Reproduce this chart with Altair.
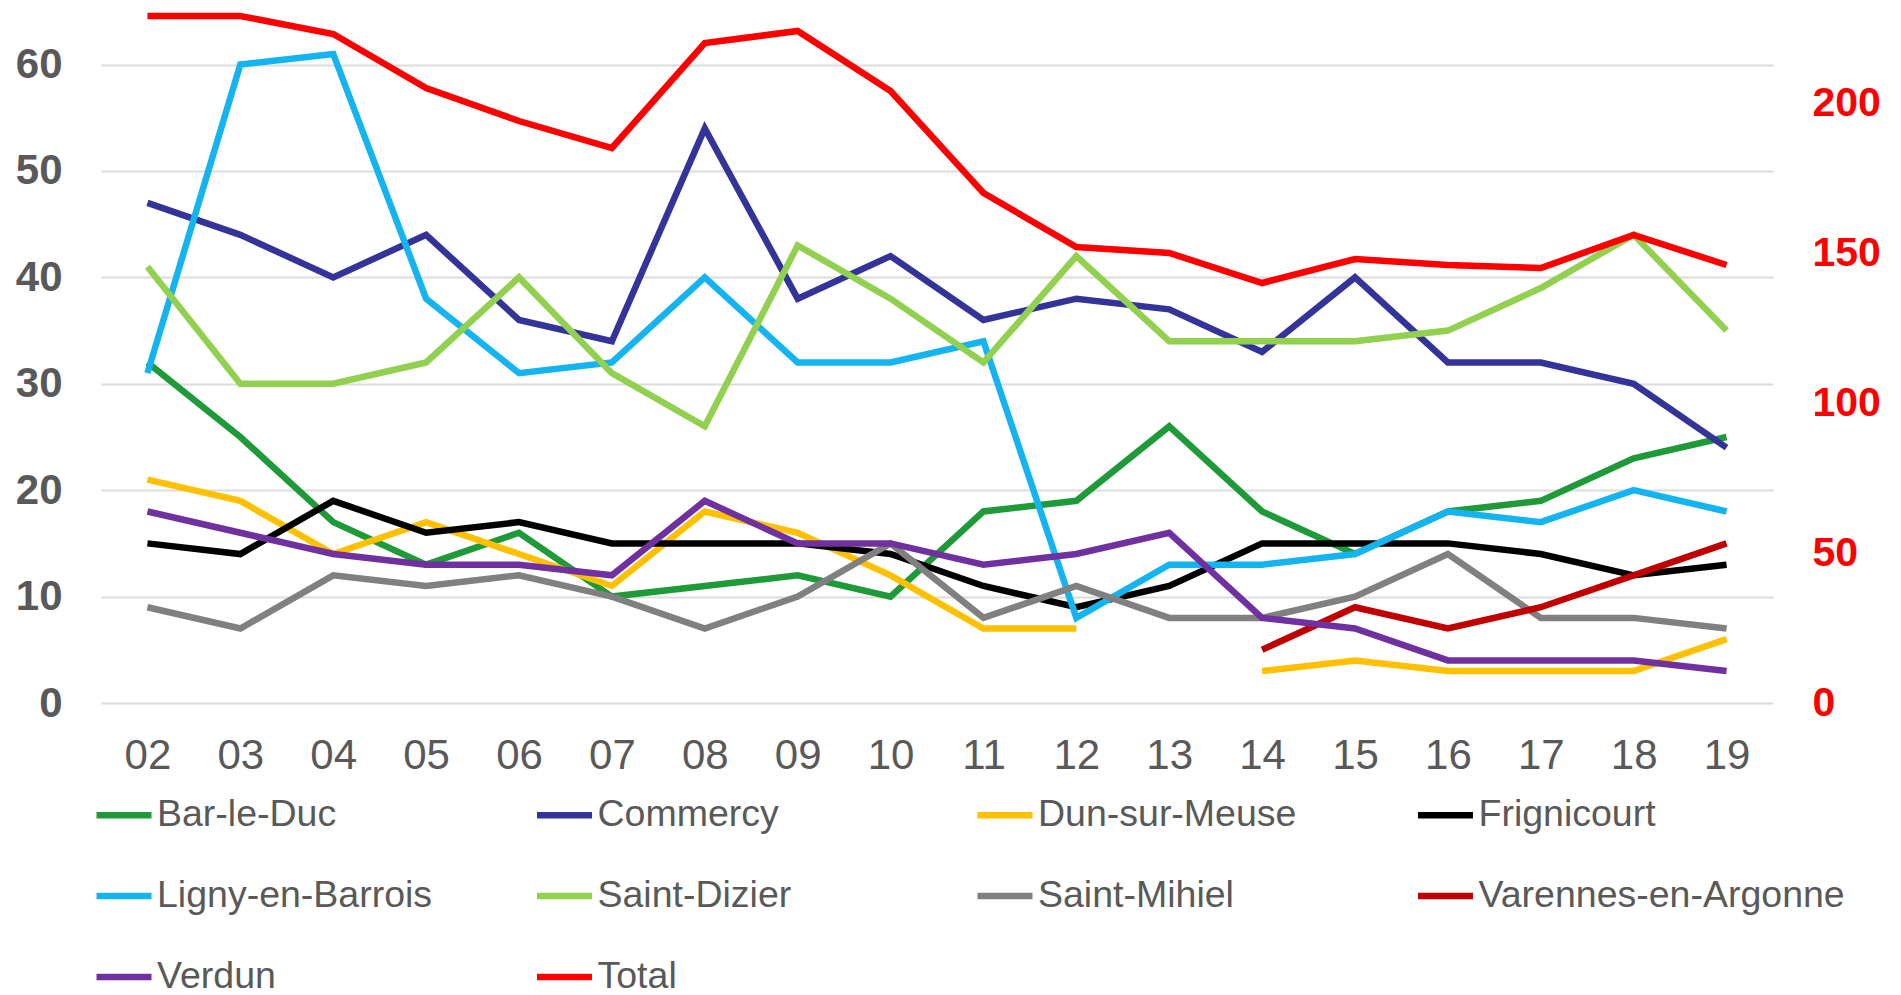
import altair as alt
import pandas as pd

years = ["02", "03", "04", "05", "06", "07", "08", "09", "10",
         "11", "12", "13", "14", "15", "16", "17", "18", "19"]

city_names = ["Bar-le-Duc", "Commercy", "Dun-sur-Meuse", "Frignicourt",
              "Ligny-en-Barrois", "Saint-Dizier", "Saint-Mihiel",
              "Varennes-en-Argonne", "Verdun"]
total_name = "Total"

bar_le_duc = [32, 25, 17, 13, 16, 10, 11, 12, 10, 18, 19, 26, 18, 14, 18, 19, 23, 25]
commercy = [47, 44, 40, 44, 36, 34, 54, 38, 42, 36, 38, 37, 33, 40, 32, 32, 30, 24]
dun_sur_meuse = [21, 19, 14, 17, 14, 11, 18, 16, 12, 7, 7, None, 3, 4, 3, 3, 3, 6]
frignicourt = [15, 14, 19, 16, 17, 15, 15, 15, 14, 11, 9, 11, 15, 15, 15, 14, 12, 13]
ligny = [31, 60, 61, 38, 31, 32, 40, 32, 32, 34, 8, 13, 13, 14, 18, 17, 20, 18]
saint_dizier = [41, 30, 30, 32, 40, 31, 26, 43, 38, 32, 42, 34, 34, 34, 35, 39, 44, 35]
saint_mihiel = [9, 7, 12, 11, 12, 10, 7, 10, 15, 8, 11, 8, 8, 10, 14, 8, 8, 7]
varennes = [None, None, None, None, None, None, None, None, None, None, None, None,
            5, 9, 7, 9, 12, 15]
verdun = [18, 16, 14, 13, 13, 12, 19, 15, 15, 13, 14, 16, 8, 7, 4, 4, 4, 3]
total = [229, 229, 223, 205, 194, 185, 220, 224, 204, 170, 152, 150, 140, 148, 146, 145, 156, 146]

city_values = [bar_le_duc, commercy, dun_sur_meuse, frignicourt, ligny,
               saint_dizier, saint_mihiel, varennes, verdun]

all_names = city_names + [total_name]
colors = ["#1e9a38", "#33339a", "#ffc000", "#000000", "#14b4f0",
          "#92d050", "#808080", "#c00000", "#7030a0", "#ff0000"]
widths = [6.5, 6.5, 6.5, 6.5, 3, 6.5, 6.5, 6.5, 6.5, 9]

rows = []
for name, vals in zip(city_names, city_values):
    seg = 0
    gap = True
    for yr, v in zip(years, vals):
        if v is None:
            gap = True
            continue
        if gap:
            seg += 1
            gap = False
        rows.append({"year": yr, "value": v, "series": name, "seg": f"{name}-{seg}"})
df_c = pd.DataFrame(rows)
df_t = pd.DataFrame({"year": years, "value": total, "series": total_name})

FONT = "Liberation Sans"
GRAY = "#595959"

x_enc = alt.X("year:O", sort=years,
              scale=alt.Scale(type="point", padding=0.5),
              axis=alt.Axis(title=None, domain=False, ticks=False, grid=False,
                            labelAngle=0, labelFontSize=42, labelFont=FONT,
                            labelColor=GRAY, labelPadding=32))

color_enc = alt.Color(
    "series:N",
    scale=alt.Scale(domain=all_names, range=colors),
    legend=alt.Legend(orient="none", legendX=-8, legendY=774, columns=4,
                      direction="horizontal",
                      gridAlign="all", columnPadding=-0.5, rowPadding=31,
                      symbolType="stroke", symbolSize=3025, symbolStrokeWidth=5,
                      labelFontSize=37.5, labelFont=FONT, labelColor=GRAY,
                      labelOffset=2, labelLimit=0, title=None, padding=0),
)

width_enc = alt.StrokeWidth("series:N",
                            scale=alt.Scale(domain=all_names, range=widths),
                            legend=None)

cities = alt.Chart(df_c).mark_line().encode(
    x=x_enc,
    y=alt.Y("value:Q",
            scale=alt.Scale(domain=[0, 65.13], nice=False, zero=True),
            axis=alt.Axis(title=None, values=[0, 10, 20, 30, 40, 50, 60],
                          grid=True, gridColor="#dcdcdc", gridWidth=2,
                          domain=False, ticks=False, labelFontSize=42,
                          labelFontWeight="bold", labelFont=FONT,
                          labelColor=GRAY, labelPadding=39)),
    color=color_enc,
    strokeWidth=width_enc,
    detail="seg:N",
)

total_line = alt.Chart(df_t).mark_line().encode(
    x=x_enc,
    y=alt.Y("value:Q",
            scale=alt.Scale(domain=[0, 231], nice=False, zero=True),
            axis=alt.Axis(title=None, orient="right",
                          values=[0, 50, 100, 150, 200], grid=False,
                          domain=False, ticks=False, labelFontSize=41,
                          labelFontWeight="bold", labelFont=FONT,
                          labelColor="#ff0000", labelPadding=39)),
    color=color_enc,
    strokeWidth=width_enc,
)

chart = alt.layer(cities, total_line).resolve_scale(y="independent").properties(
    width=1672, height=693,
    autosize=alt.AutoSizeParams(type="none"),
    padding={"left": 93, "top": 2, "right": 110, "bottom": 292},
    view=alt.ViewBackground(stroke="transparent", strokeWidth=0, fill="white"),
).configure_view(
    stroke="transparent", strokeWidth=0, strokeOpacity=0
).configure_axis(
    domain=False, ticks=False
).configure(background="white")

chart.save("out.html", embed_options={"renderer": "svg", "actions": False})
